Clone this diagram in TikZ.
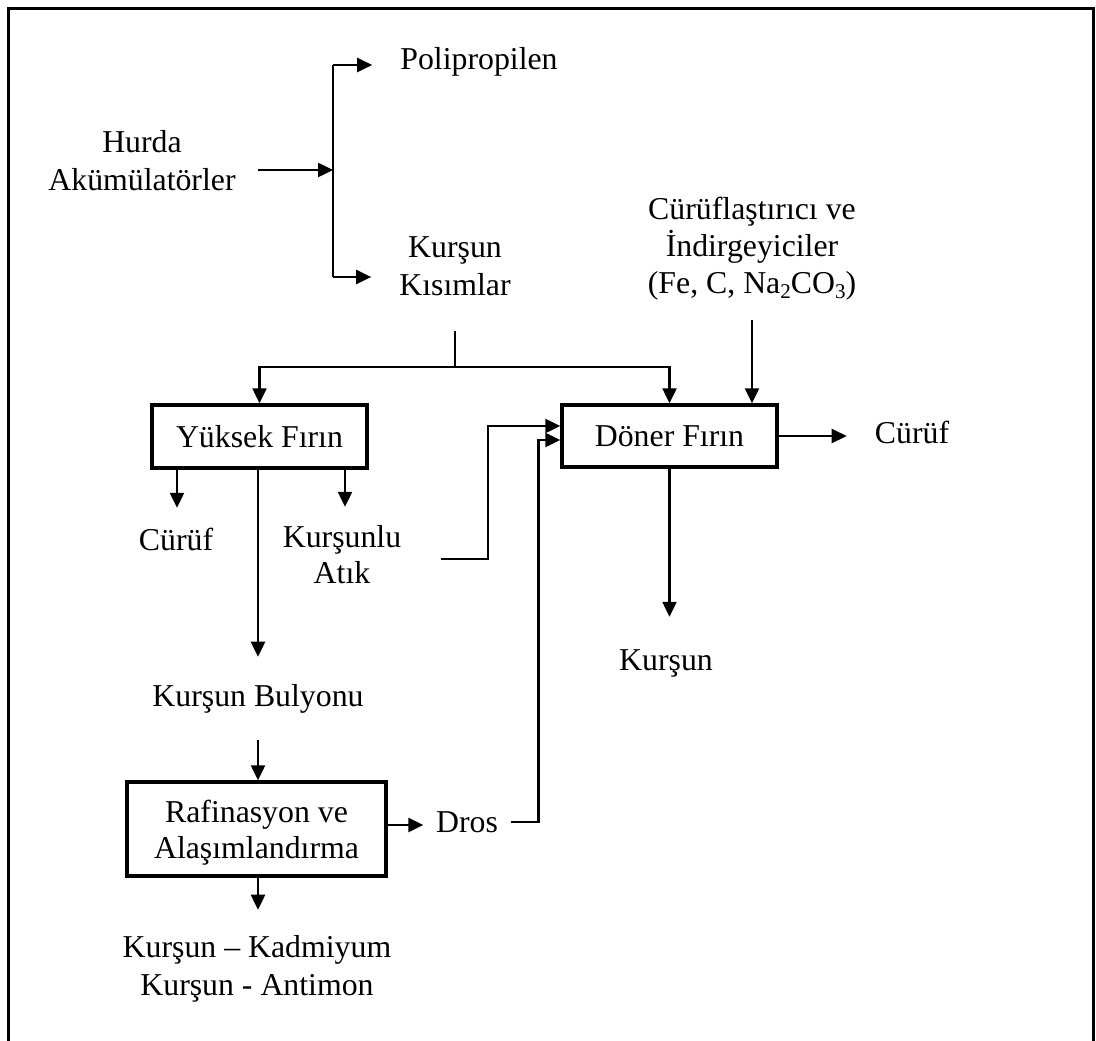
\documentclass[tikz,border=0pt]{standalone}
\usepackage{fontspec}
\setmainfont{Liberation Serif}
\usetikzlibrary{arrows.meta,calc}
\newcommand{\lowidx}[1]{\raisebox{-0.16em}{\fontsize{21}{21}\selectfont #1}}
\tikzset{
  proc/.style={draw,line width=3.5pt,inner sep=0pt,align=center},
  txt/.style={fill=white,align=center,inner xsep=12pt,inner ysep=14pt},
  link/.style={line width=2.5pt},
  flow/.style={link,-{Triangle[length=15pt,width=14pt]}},
}

\begin{document}
\begin{tikzpicture}[x=1pt,y=-1pt,font=\fontsize{31.8}{37}\selectfont]
\useasboundingbox (0,0) rectangle (1096,1041);
% page frame, open at the bottom
\draw[line width=3.5pt] (8.5,1041) -- (8.5,8.5) -- (1093.5,8.5) -- (1093.5,1041);

% inputs and products (multi-line nodes sit on their last baseline)
\node[txt,anchor=base,inner xsep=22pt] (hurda) at (142,190) {Hurda\\[1pt]Akümülatörler};
\node[txt,anchor=base,inner xsep=28pt] (poli) at (479,70) {Polipropilen};
\node[txt,anchor=base,inner xsep=28pt,inner ysep=35pt] (kk) at (455,295) {Kurşun\\[1pt]Kısımlar};
\node[txt,anchor=base,inner ysep=20pt] (katki) at (752,293) {Cürüflaştırıcı ve\\İndirgeyiciler\\(Fe, C, Na\lowidx{2}CO\lowidx{3})};

% furnaces
\node[proc,minimum width=215pt,minimum height=63pt] (yuksek) at (259.5,436.5) {Yüksek Fırın};
\node[proc,minimum width=215pt,minimum height=62pt] (doner) at (669.5,436) {Döner Fırın};
\node[proc,minimum width=259pt,minimum height=94pt,text height=66pt,text depth=8pt] (rafi) at (256.5,829) {Rafinasyon ve\\[-1pt]Alaşımlandırma};

\node[txt,anchor=base] (curuf1) at (176,550) {Cürüf};
\node[txt,anchor=base] (kurlu) at (342,583) {Kurşunlu\\[-1pt]Atık};
\node[txt,anchor=base,inner xsep=28pt] (curuf2) at (912,443) {Cürüf};
\node[txt,anchor=base] (kursun) at (666,670) {Kurşun};
\node[txt,anchor=base,inner ysep=27pt] (bulyon) at (258,706) {Kurşun Bulyonu};
\node[txt,anchor=base,inner xsep=12.5pt] (dros) at (467,832) {Dros};
\node[txt,anchor=base,inner ysep=25pt] (alasim) at (257,995) {Kurşun – Kadmiyum\\[1pt]Kurşun - Antimon};

% dismantling
\coordinate (fork) at (333,170);
\coordinate (forktop) at (333,65);
\coordinate (forkbot) at (333,277);
\draw[flow] (hurda.east |- fork) -- (fork);
\draw[link] (forktop) -- (forkbot);
\draw[flow] (forktop) -- (forktop -| poli.west);
\draw[flow] (forkbot) -- (forkbot -| kk.west);

% lead parts to both furnaces
\coordinate (split) at (455,367);
\draw[link] (kk.south) -- (split);
\draw[flow] (split) -| (yuksek.north);
\draw[flow] (split) -| (doner.north);
\draw[flow] (katki.south) -- (katki.south |- doner.north);

% blast furnace
\draw[flow] (yuksek.south -| 177,0) -- ++(0,38);
\draw[flow] (yuksek.south -| 345,0) -- ++(0,37);
\draw[flow] (yuksek.south -| bulyon.north) -- (bulyon.north);
\draw[flow] (bulyon.south) -- (bulyon.south |- rafi.north);
\draw[flow] (rafi.south -| bulyon.south) -- (alasim.north -| bulyon.south);
\draw[flow] ([yshift=4pt]rafi.east) -- ([yshift=4pt]rafi.east -| dros.west);

% rotary furnace
\coordinate (atik) at (441,559);
\draw[flow] (atik) -- ++(47,0) |- ([yshift=10pt]doner.west);
\draw[flow] (dros.east) -- ++(28,0) |- ([yshift=-4pt]doner.west);
\draw[flow] (doner.east) -- (doner.east -| curuf2.west);
\draw[flow] (doner.south) -- ++(0,148);
\end{tikzpicture}
\end{document}
